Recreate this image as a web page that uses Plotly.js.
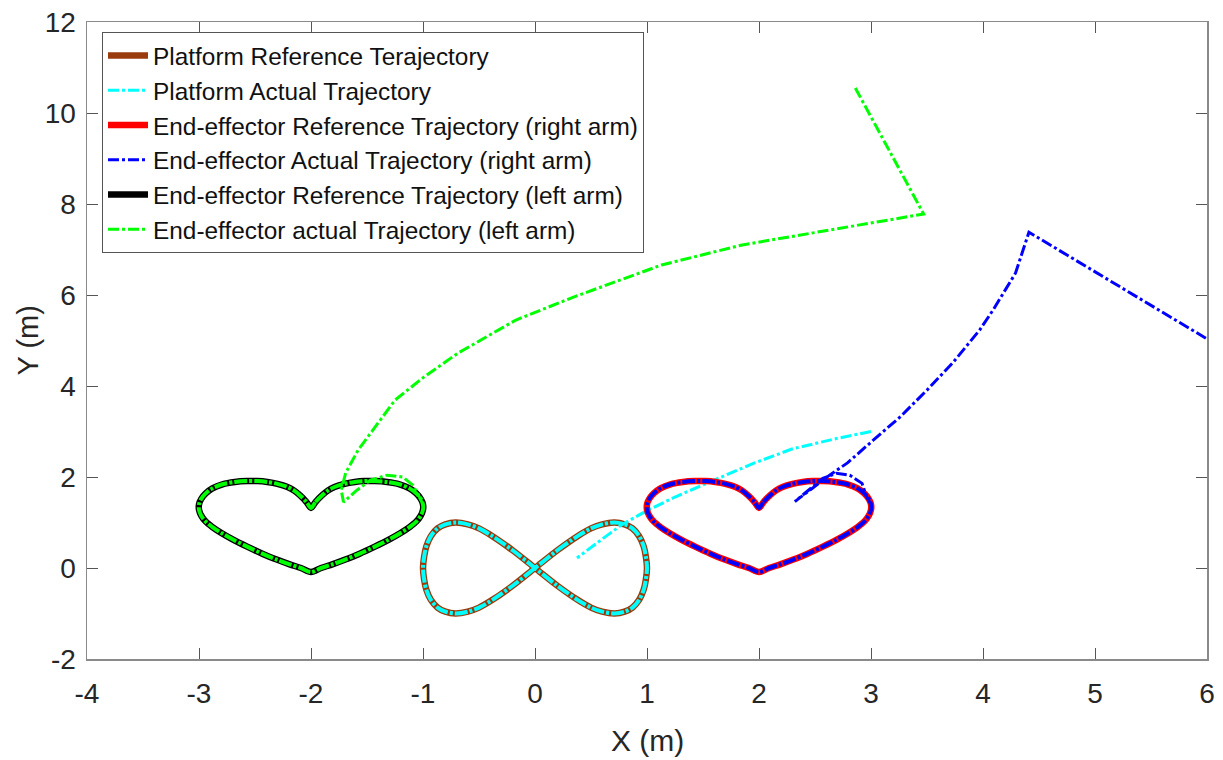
<!DOCTYPE html>
<html>
<head>
<meta charset="utf-8">
<script src="https://cdn.plot.ly/plotly-3.0.1.min.js"></script>
<style>html,body{margin:0;padding:0;background:#fff;}#chart{width:1223px;height:760px;}</style>
</head>
<body>
<div id="chart"></div>
<script>
// ---- Data ----
var legendNames = [
  "Platform Reference Terajectory",
  "Platform Actual Trajectory",
  "End-effector Reference Trajectory (right arm)",
  "End-effector Actual Trajectory (right arm)",
  "End-effector Reference Trajectory (left arm)",
  "End-effector actual Trajectory (left arm)"
];

// Heart-shaped reference path, left arm (centre x = -2)
var heartLX = [-2, -1.96, -1.90, -1.85, -1.79, -1.70, -1.61, -1.52, -1.43, -1.32, -1.21, -1.12, -1.06, -1.02, -1.00, -1.00, -1.02, -1.06, -1.12, -1.20, -1.30, -1.43, -1.57, -1.70, -1.81, -1.91, -2, -2.09, -2.19, -2.30, -2.43, -2.57, -2.70, -2.80, -2.88, -2.94, -2.98, -3.00, -3.00, -2.98, -2.94, -2.88, -2.79, -2.68, -2.57, -2.48, -2.39, -2.30, -2.21, -2.15, -2.10, -2.04, -2];
var heartLY = [1.32, 1.45, 1.60, 1.70, 1.78, 1.85, 1.89, 1.91, 1.91, 1.89, 1.84, 1.75, 1.64, 1.52, 1.40, 1.28, 1.15, 1.02, 0.90, 0.77, 0.63, 0.47, 0.31, 0.18, 0.08, 0.00, -0.09, 0.00, 0.08, 0.18, 0.31, 0.47, 0.63, 0.77, 0.90, 1.02, 1.15, 1.28, 1.40, 1.52, 1.64, 1.75, 1.84, 1.89, 1.91, 1.91, 1.89, 1.85, 1.78, 1.70, 1.60, 1.45, 1.32];

// Heart-shaped reference path, right arm (centre x = 2)
var heartRX = [2, 2.04, 2.10, 2.15, 2.21, 2.30, 2.39, 2.48, 2.57, 2.68, 2.79, 2.88, 2.94, 2.98, 3.00, 3.00, 2.98, 2.94, 2.88, 2.80, 2.70, 2.57, 2.43, 2.30, 2.19, 2.09, 2, 1.91, 1.81, 1.70, 1.57, 1.43, 1.30, 1.20, 1.12, 1.06, 1.02, 1.00, 1.00, 1.02, 1.06, 1.12, 1.21, 1.32, 1.43, 1.52, 1.61, 1.70, 1.79, 1.85, 1.90, 1.96, 2];
var heartRY = [1.32, 1.45, 1.60, 1.70, 1.78, 1.85, 1.89, 1.91, 1.91, 1.89, 1.84, 1.75, 1.64, 1.52, 1.40, 1.28, 1.15, 1.02, 0.90, 0.77, 0.63, 0.47, 0.31, 0.18, 0.08, 0.00, -0.09, 0.00, 0.08, 0.18, 0.31, 0.47, 0.63, 0.77, 0.90, 1.02, 1.15, 1.28, 1.40, 1.52, 1.64, 1.75, 1.84, 1.89, 1.91, 1.91, 1.89, 1.85, 1.78, 1.70, 1.60, 1.45, 1.32];

// Figure-eight platform reference path
var lemX = [0, 0.20, 0.38, 0.50, 0.60, 0.71, 0.80, 0.87, 0.93, 0.97, 0.99, 1.00, 0.99, 0.97, 0.93, 0.87, 0.80, 0.71, 0.60, 0.50, 0.38, 0.20, 0, -0.20, -0.38, -0.50, -0.60, -0.71, -0.80, -0.87, -0.93, -0.97, -0.99, -1.00, -0.99, -0.97, -0.93, -0.87, -0.80, -0.71, -0.60, -0.50, -0.38, -0.20, 0];
var lemY = [0, 0.39, 0.70, 0.87, 0.96, 1.00, 0.96, 0.87, 0.70, 0.48, 0.25, 0, -0.25, -0.48, -0.70, -0.87, -0.96, -1.00, -0.96, -0.87, -0.70, -0.39, 0, 0.39, 0.70, 0.87, 0.96, 1.00, 0.96, 0.87, 0.70, 0.48, 0.25, 0, -0.25, -0.48, -0.70, -0.87, -0.96, -1.00, -0.96, -0.87, -0.70, -0.39, 0];

// Platform actual: transient part
var cyanTX = [3.00, 2.70, 2.30, 1.95, 1.56, 1.25, 1.00, 0.78, 0.58, 0.375];
var cyanTY = [3.00, 2.85, 2.62, 2.30, 1.89, 1.56, 1.26, 0.96, 0.60, 0.22];

// Right-arm end-effector actual: transient part
var blueTX = [5.99, 4.41, 4.29, 4.09, 3.97, 3.73, 3.50, 3.26, 3.02, 2.79, 2.63, 2.32, 2.57, 2.69, 2.81, 2.92, 2.96, 3.00];
var blueTY = [5.05, 7.38, 6.48, 5.67, 5.23, 4.51, 3.91, 3.32, 2.81, 2.31, 2.04, 1.46, 1.97, 2.08, 2.04, 1.86, 1.57, 1.40];

// Left-arm end-effector actual: transient part
var greenTX = [2.86, 3.47, 1.85, 1.13, 0.35, -0.17, -0.69, -0.99, -1.25, -1.43, -1.58, -1.69, -1.73, -1.71, -1.59, -1.47, -1.32, -1.18, -1.09, -1.04, -1.00];
var greenTY = [10.55, 7.78, 7.10, 6.66, 5.96, 5.45, 4.72, 4.20, 3.69, 3.10, 2.59, 2.09, 1.71, 1.45, 1.71, 1.93, 2.04, 2.00, 1.82, 1.60, 1.40];

var xTicks = [-4, -3, -2, -1, 0, 1, 2, 3, 4, 5, 6];
var yTicks = [-2, 0, 2, 4, 6, 8, 10, 12];

// ---- Styles ----
var FONT = "Liberation Sans, Arial, sans-serif";
var DASHDOT = "11px,3px,3px,3px";
var DENSE = "13px,2px,3px,2px";
var REFW = 6.5, ACTW = 3, LOOPW = 4;

function ref(x, y, name, color) {
  return {x: x, y: y, name: name, type: "scatter", mode: "lines",
    line: {color: color, width: REFW, shape: "spline", smoothing: 0.9}};
}
function trans(x, y, name, color) {
  return {x: x, y: y, name: name, type: "scatter", mode: "lines",
    line: {color: color, width: ACTW, dash: DASHDOT}};
}
function loop(x, y, color) {
  return {x: x, y: y, showlegend: false, type: "scatter", mode: "lines", hoverinfo: "skip",
    line: {color: color, width: LOOPW, dash: DENSE, shape: "spline", smoothing: 0.9}};
}

var traces = [
  ref(lemX, lemY, legendNames[0], "#9a3b0c"),
  trans(cyanTX, cyanTY, legendNames[1], "#00ffff"),
  loop(lemX, lemY, "#00ffff"),
  ref(heartRX, heartRY, legendNames[2], "#ff0000"),
  trans(blueTX, blueTY, legendNames[3], "#0000ff"),
  loop(heartRX, heartRY, "#0000ff"),
  ref(heartLX, heartLY, legendNames[4], "#000000"),
  trans(greenTX, greenTY, legendNames[5], "#00ff00"),
  loop(heartLX, heartLY, "#00ff00")
];

var axisCommon = {
  showgrid: false, zeroline: false, showline: true, mirror: "ticks",
  linecolor: "#8a8a8a", linewidth: 1.5,
  ticks: "inside", ticklen: 11, tickwidth: 1, tickcolor: "#555",
  tickfont: {family: FONT, size: 28, color: "#262626"},
  tickmode: "array"
};

var layout = {
  width: 1223, height: 760,
  margin: {l: 87, r: 16, t: 22, b: 101},
  paper_bgcolor: "#fff", plot_bgcolor: "#fff",
  showlegend: true,
  xaxis: Object.assign({}, axisCommon, {
    range: [-4, 6], tickvals: xTicks, ticktext: xTicks.map(String),
    ticklabelstandoff: 9
  }),
  yaxis: Object.assign({}, axisCommon, {
    range: [-2, 12], tickvals: yTicks, ticktext: yTicks.map(String),
    ticklabelstandoff: 4
  }),
  annotations: [
    {text: "X (m)", xref: "paper", yref: "paper", x: 0.5, y: -0.1287,
     xanchor: "center", yanchor: "middle", showarrow: false,
     font: {family: FONT, size: 30, color: "#262626"}},
    {text: "Y (m)", xref: "paper", yref: "paper", x: -0.0527, y: 0.5,
     xanchor: "center", yanchor: "middle", showarrow: false, textangle: -90,
     font: {family: FONT, size: 29, color: "#262626"}}
  ],
  legend: {
    x: 0.0134, y: 0.984, xanchor: "left", yanchor: "top",
    bgcolor: "#ffffff", bordercolor: "#555", borderwidth: 1,
    font: {family: FONT, size: 24.4, color: "#111"},
    itemwidth: 40, tracegroupgap: 0
  }
};

Plotly.newPlot("chart", traces, layout, {displayModeBar: false, staticPlot: true});
</script>
</body>
</html>
